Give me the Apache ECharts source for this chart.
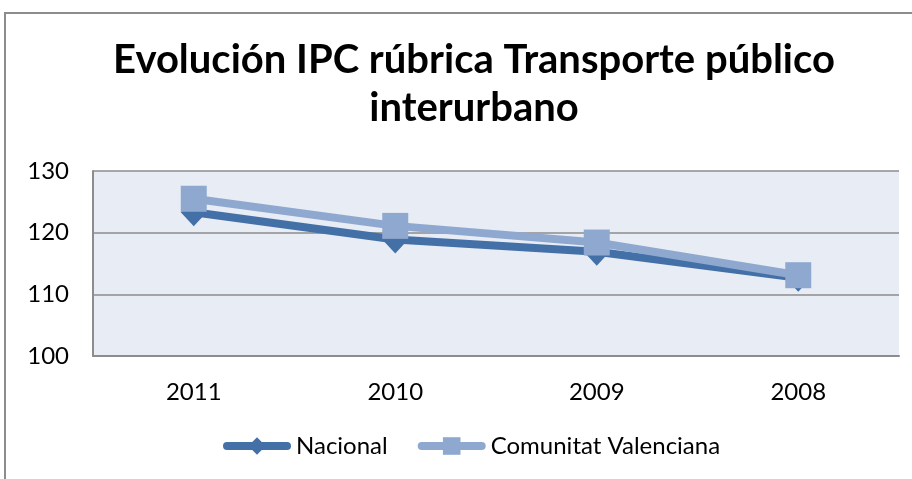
<!DOCTYPE html>
<html lang="es">
<head>
    <meta charset="utf-8">
    <title>Evolución IPC rúbrica Transporte público interurbano</title>
    <script src="https://cdn.jsdelivr.net/npm/echarts@6/dist/echarts.min.js"></script>
    <style>
        html, body { margin: 0; padding: 0; background: #fff; }
        #main { width: 912px; height: 479px; }
    </style>
</head>
<body>
<div id="main"></div>
<script type="text/javascript">
    // datos
    var years = ['2011', '2010', '2009', '2008'];
    var nacional = [123.3, 118.9, 116.9, 112.7];
    var valenciana = [125.5, 121.1, 118.4, 113.1];
    var yTicks = [100, 110, 120, 130];

    var font = 'Lato, "Liberation Sans", sans-serif';
    var myChart = echarts.init(document.getElementById('main'));

    myChart.setOption({
        backgroundColor: '#ffffff',
        graphic: [{
            type: 'rect',
            shape: {x: 5, y: 13, width: 1000, height: 600},
            style: {fill: 'none', stroke: '#8c8c8c', lineWidth: 2},
            silent: true
        }],
        title: {
            text: 'Evolución IPC rúbrica Transporte público\ninterurbano',
            left: 469,
            top: 31,
            textAlign: 'center',
            textStyle: {
                fontFamily: font,
                fontSize: 40,
                fontWeight: 'bold',
                color: '#000',
                lineHeight: 48
            }
        },
        legend: {
            bottom: 16,
            left: 218,
            itemWidth: 60,
            itemHeight: 22,
            itemGap: 30,
            lineStyle: {width: 8, cap: 'round'},
            textStyle: {fontFamily: font, fontSize: 24, color: '#000', padding: [0, 0, 0, 4]},
            data: ['Nacional', 'Comunitat Valenciana']
        },
        grid: {
            left: 93,
            right: 13,
            top: 171,
            bottom: 123,
            show: true,
            backgroundColor: '#e8ecf4',
            borderWidth: 0
        },
        xAxis: {
            type: 'category',
            data: years,
            boundaryGap: true,
            axisLine: {show: true, lineStyle: {color: '#8c8c8c', width: 2}},
            axisTick: {show: false},
            axisLabel: {fontFamily: font, fontSize: 24, color: '#000', margin: 24}
        },
        yAxis: {
            type: 'value',
            min: yTicks[0],
            max: yTicks[yTicks.length - 1],
            interval: 10,
            axisLine: {show: true, lineStyle: {color: '#8c8c8c', width: 2}},
            axisTick: {show: false},
            axisLabel: {fontFamily: font, fontSize: 24, color: '#000', margin: 24},
            splitLine: {lineStyle: {color: '#8c8c8c', width: 1.5}}
        },
        series: [
            {
                name: 'Nacional',
                type: 'line',
                data: nacional,
                symbol: 'diamond',
                symbolSize: [26, 28],
                color: '#4470a8',
                lineStyle: {width: 8, color: '#4470a8'},
                itemStyle: {color: '#4470a8'},
                z: 2
            },
            {
                name: 'Comunitat Valenciana',
                type: 'line',
                data: valenciana,
                symbol: 'rect',
                symbolSize: 26,
                color: '#8fa8cf',
                lineStyle: {width: 8, color: '#8fa8cf'},
                itemStyle: {color: '#8fa8cf'},
                z: 3
            }
        ]
    });
</script>
</body>
</html>
